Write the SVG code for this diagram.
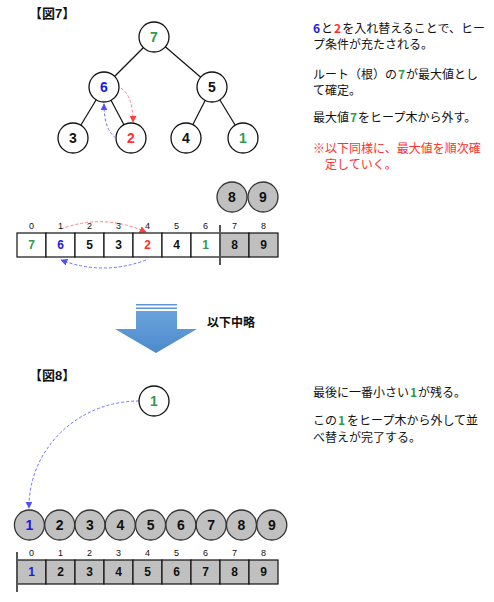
<svg xmlns="http://www.w3.org/2000/svg" width="494" height="602" viewBox="0 0 494 602">
<defs>
<style>
.bg{fill:#fff}
.node{fill:#fff;stroke:#111;stroke-width:1.3}
.gnode{fill:#c0c0c0;stroke:#333;stroke-width:1.3}
.edge{stroke:#111;stroke-width:1.2;fill:none}
.num{font-family:"Liberation Sans",Arial,sans-serif;font-weight:bold;font-size:14px;text-anchor:middle;fill:#111}
.cnum{font-family:"Liberation Sans",Arial,sans-serif;font-weight:bold;font-size:12px;text-anchor:middle;fill:#111}
.idx{font-family:"Liberation Sans",Arial,sans-serif;font-size:9px;text-anchor:middle;fill:#111}
.title{font-family:"Liberation Sans","Noto Sans CJK JP",sans-serif;font-weight:bold;font-size:13px;fill:#111}
.jp{font-family:"Noto Sans CJK JP",sans-serif;font-size:12px;fill:#111}
.g{fill:#2e9b4f}
.b{fill:#1a1ae6}
.r{fill:#ff3030}
.cell{fill:#fff;stroke:#111;stroke-width:1.2}
.gcell{fill:#c0c0c0;stroke:#111;stroke-width:1.2}
.rdash{stroke:#ff8080;stroke-width:1;stroke-dasharray:3,2;fill:none}
.bdash{stroke:#7070ff;stroke-width:1;stroke-dasharray:3,2;fill:none}
</style>
<marker id="ar" viewBox="0 0 10 10" refX="9" refY="5" markerWidth="7" markerHeight="7" orient="auto"><path d="M0,0 L10,5 L0,10 z" fill="#ff4040"/></marker>
<marker id="ab" viewBox="0 0 10 10" refX="9" refY="5" markerWidth="7" markerHeight="7" orient="auto"><path d="M0,0 L10,5 L0,10 z" fill="#5050ff"/></marker>
<linearGradient id="bl" x1="0" y1="0" x2="0" y2="1"><stop offset="0" stop-color="#6aa3dc"/><stop offset="1" stop-color="#4c8acc"/></linearGradient>
</defs>
<rect class="bg" x="0" y="0" width="494" height="602"/>

<text class="title" x="29" y="18">【図7】</text>

<g id="tree-edges">
<line class="edge" x1="154" y1="37" x2="104" y2="87"/>
<line class="edge" x1="154" y1="37" x2="212" y2="87"/>
<line class="edge" x1="104" y1="87" x2="73" y2="138"/>
<line class="edge" x1="104" y1="87" x2="131" y2="138"/>
<line class="edge" x1="212" y1="87" x2="186" y2="138"/>
<line class="edge" x1="212" y1="87" x2="243" y2="138"/>
</g>
<g id="t7"><circle class="node" cx="154" cy="37" r="15"/><text class="num g" x="154" y="42">7</text></g>
<g id="t6"><circle class="node" cx="104" cy="87" r="15"/><text class="num b" x="104" y="92">6</text></g>
<g id="t5"><circle class="node" cx="212" cy="87" r="15"/><text class="num" x="212" y="92">5</text></g>
<g id="t3"><circle class="node" cx="73" cy="138" r="15"/><text class="num" x="73" y="143">3</text></g>
<g id="t2"><circle class="node" cx="131" cy="138" r="15" stroke="#ff5050"/><text class="num r" x="131" y="143">2</text></g>
<g id="t4"><circle class="node" cx="186" cy="138" r="15"/><text class="num" x="186" y="143">4</text></g>
<g id="t1"><circle class="node" cx="243" cy="138" r="15"/><text class="num g" x="243" y="143">1</text></g>

<g id="connectors">
<path class="rdash" d="M121,88 Q133,96 133,122" marker-end="url(#ar)"/>
<path class="bdash" d="M116,138 Q104,130 104,104" marker-end="url(#ab)"/>
<path class="rdash" d="M61,229 Q103,213 146,232" marker-end="url(#ar)"/>
<path class="bdash" d="M146,260 Q103,276 61,260" marker-end="url(#ab)"/>
<path class="bdash" d="M139,401 A110,106 0 0 0 29,508" marker-end="url(#ab)"/>
</g>

<g id="text-right-top">
<text class="jp" x="313" y="33"><tspan class="b" font-weight="bold">6</tspan><tspan dx="1">と</tspan><tspan class="r" font-weight="bold" dx="1">2</tspan><tspan dx="1">を入れ替えることで、ヒー</tspan></text>
<text class="jp" x="313" y="49">プ条件が充たされる。</text>
<text class="jp" x="313" y="79">ルート（根）の<tspan class="g" font-weight="bold" dx="1">7</tspan><tspan dx="1">が最大値とし</tspan></text>
<text class="jp" x="313" y="95">て確定。</text>
<text class="jp" x="313" y="122">最大値<tspan class="g" font-weight="bold" dx="1">7</tspan><tspan dx="1">をヒープ木から外す。</tspan></text>
<text class="jp r" x="313" y="153">※以下同様に、最大値を順次確</text>
<text class="jp r" x="325" y="169">定していく。</text>
</g>

<g id="removed-top">
<circle class="gnode" cx="232" cy="197" r="15"/><text class="num" x="232" y="202">8</text>
<circle class="gnode" cx="263" cy="197" r="15"/><text class="num" x="263" y="202">9</text>
</g>

<g id="array1">
<rect class="cell" x="17" y="233" width="29" height="24"/>
<rect class="cell" x="46" y="233" width="29" height="24"/>
<rect class="cell" x="75" y="233" width="29" height="24"/>
<rect class="cell" x="104" y="233" width="29" height="24"/>
<rect class="cell" x="133" y="233" width="29" height="24"/>
<rect class="cell" x="162" y="233" width="29" height="24"/>
<rect class="cell" x="191" y="233" width="29" height="24"/>
<rect class="gcell" x="220" y="233" width="29" height="24"/>
<rect class="gcell" x="249" y="233" width="29" height="24"/>
<text class="cnum g" x="31.5" y="249">7</text>
<text class="cnum b" x="60.5" y="249">6</text>
<text class="cnum" x="89.5" y="249">5</text>
<text class="cnum" x="118.5" y="249">3</text>
<text class="cnum r" x="147.5" y="249">2</text>
<text class="cnum" x="176.5" y="249">4</text>
<text class="cnum g" x="205.5" y="249">1</text>
<text class="cnum" x="234.5" y="249">8</text>
<text class="cnum" x="263.5" y="249">9</text>
<text class="idx" x="31.5" y="229" fill="#4b3a7a">0</text>
<text class="idx" x="60.5" y="229">1</text>
<text class="idx" x="89.5" y="229">2</text>
<text class="idx" x="118.5" y="229">3</text>
<text class="idx" x="147.5" y="229">4</text>
<text class="idx" x="176.5" y="229">5</text>
<text class="idx" x="205.5" y="229">6</text>
<text class="idx" x="234.5" y="229">7</text>
<text class="idx" x="263.5" y="229">8</text>
<line x1="220" y1="225" x2="220" y2="265" stroke="#555" stroke-width="2"/>
</g>

<g id="block-arrow">
<rect x="136" y="304" width="41" height="1.5" fill="#5b96d6"/>
<rect x="136" y="307.5" width="41" height="1.5" fill="#5b96d6"/>
<path d="M136,311 L177,311 L177,329 L197,329 L156,353 L115,329 L136,329 Z" fill="url(#bl)"/>
</g>
<text class="jp" x="207" y="327" font-weight="bold">以下中略</text>

<text class="title" x="29" y="380">【図8】</text>

<g id="f8-1"><circle class="node" cx="154" cy="401" r="15"/><text class="num g" x="154" y="406">1</text></g>

<g id="text-right-bottom">
<text class="jp" x="313" y="397">最後に一番小さい<tspan class="g" font-weight="bold" dx="1">1</tspan><tspan dx="1">が残る。</tspan></text>
<text class="jp" x="313" y="425">この<tspan class="g" font-weight="bold" dx="1">1</tspan><tspan dx="2">をヒープ木から外して並</tspan></text>
<text class="jp" x="313" y="442">べ替えが完了する。</text>
</g>

<g id="removed-bottom">
<circle class="gnode" cx="29.4" cy="525" r="15"/><text class="num b" x="29.4" y="530">1</text>
<circle class="gnode" cx="59.7" cy="525" r="15"/><text class="num" x="59.7" y="530">2</text>
<circle class="gnode" cx="90" cy="525" r="15"/><text class="num" x="90" y="530">3</text>
<circle class="gnode" cx="120.3" cy="525" r="15"/><text class="num" x="120.3" y="530">4</text>
<circle class="gnode" cx="150.6" cy="525" r="15"/><text class="num" x="150.6" y="530">5</text>
<circle class="gnode" cx="180.9" cy="525" r="15"/><text class="num" x="180.9" y="530">6</text>
<circle class="gnode" cx="211.2" cy="525" r="15"/><text class="num" x="211.2" y="530">7</text>
<circle class="gnode" cx="241.5" cy="525" r="15"/><text class="num" x="241.5" y="530">8</text>
<circle class="gnode" cx="271.8" cy="525" r="15"/><text class="num" x="271.8" y="530">9</text>
</g>

<g id="array2">
<rect class="gcell" x="17" y="560" width="29" height="24"/>
<rect class="gcell" x="46" y="560" width="29" height="24"/>
<rect class="gcell" x="75" y="560" width="29" height="24"/>
<rect class="gcell" x="104" y="560" width="29" height="24"/>
<rect class="gcell" x="133" y="560" width="29" height="24"/>
<rect class="gcell" x="162" y="560" width="29" height="24"/>
<rect class="gcell" x="191" y="560" width="29" height="24"/>
<rect class="gcell" x="220" y="560" width="29" height="24"/>
<rect class="gcell" x="249" y="560" width="29" height="24"/>
<text class="cnum b" x="31.5" y="576">1</text>
<text class="cnum" x="60.5" y="576">2</text>
<text class="cnum" x="89.5" y="576">3</text>
<text class="cnum" x="118.5" y="576">4</text>
<text class="cnum" x="147.5" y="576">5</text>
<text class="cnum" x="176.5" y="576">6</text>
<text class="cnum" x="205.5" y="576">7</text>
<text class="cnum" x="234.5" y="576">8</text>
<text class="cnum" x="263.5" y="576">9</text>
<text class="idx" x="31.5" y="556" fill="#4b3a7a">0</text>
<text class="idx" x="60.5" y="556">1</text>
<text class="idx" x="89.5" y="556">2</text>
<text class="idx" x="118.5" y="556">3</text>
<text class="idx" x="147.5" y="556">4</text>
<text class="idx" x="176.5" y="556">5</text>
<text class="idx" x="205.5" y="556">6</text>
<text class="idx" x="234.5" y="556">7</text>
<text class="idx" x="263.5" y="556">8</text>
<line x1="17" y1="552" x2="17" y2="592" stroke="#555" stroke-width="2"/>
</g>
</svg>
